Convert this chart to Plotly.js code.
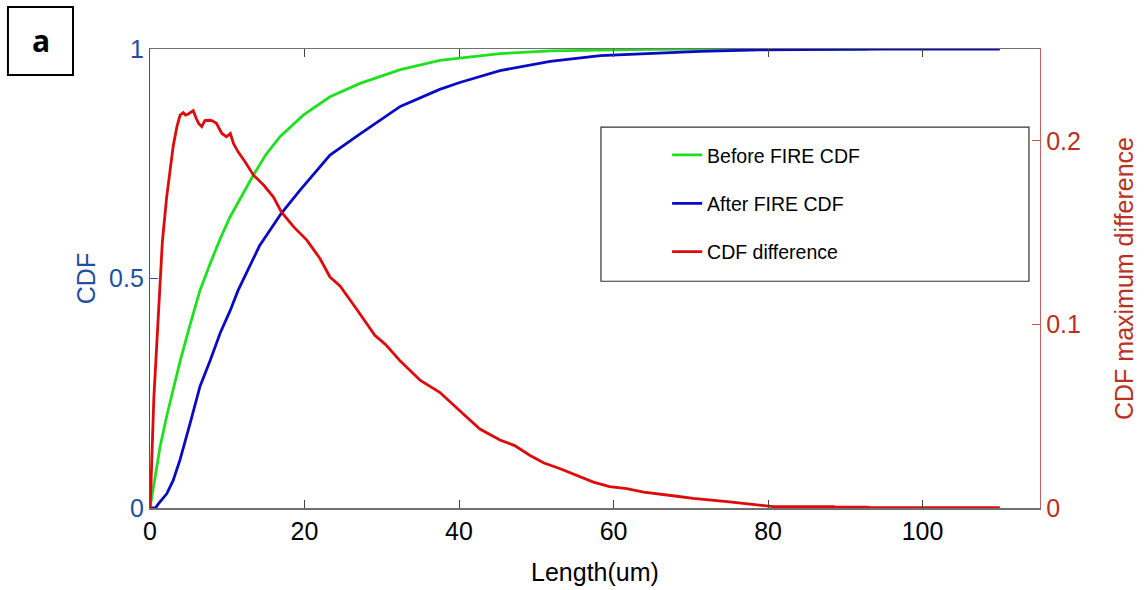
<!DOCTYPE html>
<html>
<head>
<meta charset="utf-8">
<script src="https://cdn.plot.ly/plotly-3.0.1.min.js"></script>
<style>html,body{margin:0;padding:0;background:#fff;}#chart{width:1144px;height:590px;}</style>
</head>
<body>
<div id="chart"></div>
<script>
// Before FIRE CDF (green)
const beforeX = [0, 0.5, 1.3, 2.16, 3.0, 3.9, 5.2, 6.47, 7.8, 8.63, 9.1, 10.36, 11.4, 13.37, 15.0, 16.83, 19.84, 23.3, 27.2, 32.4, 37.5, 40.1, 45.3, 51.8, 58.3, 64.7, 71.2, 79.0, 88.5, 93.0];
const beforeY = [0, 0.05, 0.133, 0.20, 0.257, 0.32, 0.40, 0.474, 0.533, 0.569, 0.587, 0.634, 0.665, 0.725, 0.770, 0.809, 0.856, 0.896, 0.925, 0.955, 0.975, 0.980, 0.990, 0.996, 0.998, 0.999, 1.0, 1.0, 1.0, 1.0];

// After FIRE CDF (blue)
const afterX = [0, 0.7, 1.08, 2.16, 3.0, 3.9, 5.2, 6.47, 7.8, 9.1, 10.4, 11.4, 14.2, 17.0, 19.4, 23.3, 27.2, 32.4, 37.5, 40.1, 45.3, 51.8, 58.3, 64.7, 71.2, 79.0, 88.5, 95.0, 110.0];
const afterY = [0, 0, 0.009, 0.031, 0.06, 0.106, 0.185, 0.265, 0.322, 0.382, 0.431, 0.474, 0.572, 0.642, 0.692, 0.769, 0.815, 0.875, 0.912, 0.927, 0.953, 0.973, 0.9855, 0.991, 0.995, 0.998, 0.9992, 0.9997, 1.0];

// CDF difference (red, right axis)
const diffX = [0, 0.1, 0.5, 1.2, 1.6, 2.16, 2.6, 3.0, 3.5, 3.9, 4.3, 4.6, 4.96, 5.3, 5.6, 6.0, 6.3, 6.7, 7.1, 7.6, 8.0, 8.6, 9.0, 9.3, 9.9, 10.4, 10.8, 11.4, 12.3, 13.4, 14.7, 15.96, 17.0, 18.6, 20.3, 22.0, 23.3, 24.6, 26.8, 29.1, 30.5, 32.4, 35.0, 37.5, 40.1, 42.7, 45.3, 47.2, 49.2, 51.0, 53.1, 55.2, 57.4, 59.5, 61.7, 63.9, 66.0, 68.2, 70.3, 72.5, 74.7, 76.8, 79.0, 80.7, 88.5, 88.9, 92.8, 93.2, 110.0];
const diffY = [0, 0.0095, 0.06, 0.1186, 0.145, 0.1695, 0.185, 0.197, 0.208, 0.214, 0.2153, 0.2140, 0.2146, 0.2155, 0.2164, 0.212, 0.2095, 0.2077, 0.211, 0.2112, 0.211, 0.2095, 0.2065, 0.204, 0.2022, 0.204, 0.1986, 0.194, 0.1886, 0.1813, 0.1759, 0.1695, 0.1613, 0.1531, 0.1459, 0.1359, 0.1258, 0.121, 0.108, 0.094, 0.089, 0.080, 0.0695, 0.063, 0.053, 0.043, 0.037, 0.034, 0.0286, 0.0245, 0.0214, 0.0177, 0.0141, 0.0117, 0.0105, 0.0086, 0.0077, 0.0064, 0.0053, 0.0045, 0.0035, 0.0025, 0.0017, 0.0008, 0.0008, 0.0004, 0.0004, 0.0002, 0.0002];

const xTicks = [0, 20, 40, 60, 80, 100];
const yLeftTicks = [0, 0.5, 1];
const yLeftLabels = ['0', '0.5', '1'];
const yRightTicks = [0, 0.1, 0.2];
const yRightLabels = ['0', '0.1', '0.2'];

const FONT = 'Liberation Sans, Arial, sans-serif';
const BLUE_TXT = '#1f4f9e';
const RED_TXT = '#b8321f';

const traces = [
  {x: beforeX, y: beforeY, name: 'Before FIRE CDF', type: 'scatter', mode: 'lines',
   line: {color: '#1fe01f', width: 2.8}, legendgroup: 'g1', yaxis: 'y'},
  {x: afterX, y: afterY, name: 'After FIRE CDF', type: 'scatter', mode: 'lines',
   line: {color: '#0a0ac4', width: 2.8}, legendgroup: 'g2', yaxis: 'y'},
  {x: diffX, y: diffY, name: 'CDF difference', type: 'scatter', mode: 'lines',
   line: {color: '#dd0b0b', width: 2.8}, legendgroup: 'g3', yaxis: 'y2'}
];

const layout = {
  width: 1144, height: 590,
  margin: {l: 150, r: 104, t: 49, b: 82, pad: 0},
  paper_bgcolor: '#ffffff', plot_bgcolor: '#ffffff',
  font: {family: FONT, size: 25, color: '#000'},
  showlegend: true,
  legend: {
    x: 0.581, y: 0.811, xanchor: 'left', yanchor: 'top',
    bgcolor: 'rgba(0,0,0,0)', borderwidth: 0,
    font: {family: FONT, size: 19.5, color: '#000'},
    traceorder: 'grouped', tracegroupgap: 20
  },
  xaxis: {
    range: [0, 115.2], tickvals: xTicks, ticks: 'inside', ticklen: 8, tickwidth: 1,
    tickcolor: '#444', showline: true, linecolor: '#707070', linewidth: 1.5,
    mirror: 'ticks', showgrid: false, zeroline: false,
    tickfont: {family: FONT, size: 25, color: '#000'},
    title: {text: 'Length(um)', font: {family: FONT, size: 25, color: '#000'}, standoff: 20}
  },
  yaxis: {
    range: [0, 1], tickvals: yLeftTicks, ticktext: yLeftLabels, ticks: 'inside', ticklen: 8,
    tickcolor: '#3a4aa8', showline: true, linecolor: '#3a4aa8', linewidth: 1.2,
    showgrid: false, zeroline: false,
    tickfont: {family: FONT, size: 25, color: BLUE_TXT},
    title: {text: 'CDF', font: {family: FONT, size: 25, color: BLUE_TXT}, standoff: 6}
  },
  yaxis2: {
    range: [0, 0.25], tickvals: yRightTicks, ticktext: yRightLabels, ticks: 'inside', ticklen: 8,
    overlaying: 'y', side: 'right', anchor: 'x',
    tickcolor: '#c05050', showline: true, linecolor: '#c86060', linewidth: 1.2,
    showgrid: false, zeroline: false,
    tickfont: {family: FONT, size: 25, color: RED_TXT},
    title: {text: 'CDF maximum difference', font: {family: FONT, size: 25, color: RED_TXT}, standoff: 35}
  },
  shapes: [
    {type: 'rect', xref: 'paper', yref: 'paper', x0: 0.5067, x1: 0.9876, y0: 0.494, y1: 0.8299,
     line: {color: '#333', width: 1.2}, fillcolor: 'rgba(0,0,0,0)'},
    {type: 'rect', xref: 'paper', yref: 'paper', x0: -0.1596, x1: -0.0865, y0: 0.9433, y1: 1.0916,
     line: {color: '#000', width: 2}, fillcolor: 'rgba(0,0,0,0)'}
  ],
  annotations: [
    {text: '<b>a</b>', xref: 'paper', yref: 'paper', x: -0.1230, y: 1.0175,
     xanchor: 'center', yanchor: 'middle', showarrow: false,
     font: {family: 'Open Sans, sans-serif', size: 30, color: '#000'}}
  ]
};

Plotly.newPlot('chart', traces, layout, {displayModeBar: false, staticPlot: true});
</script>
</body>
</html>
